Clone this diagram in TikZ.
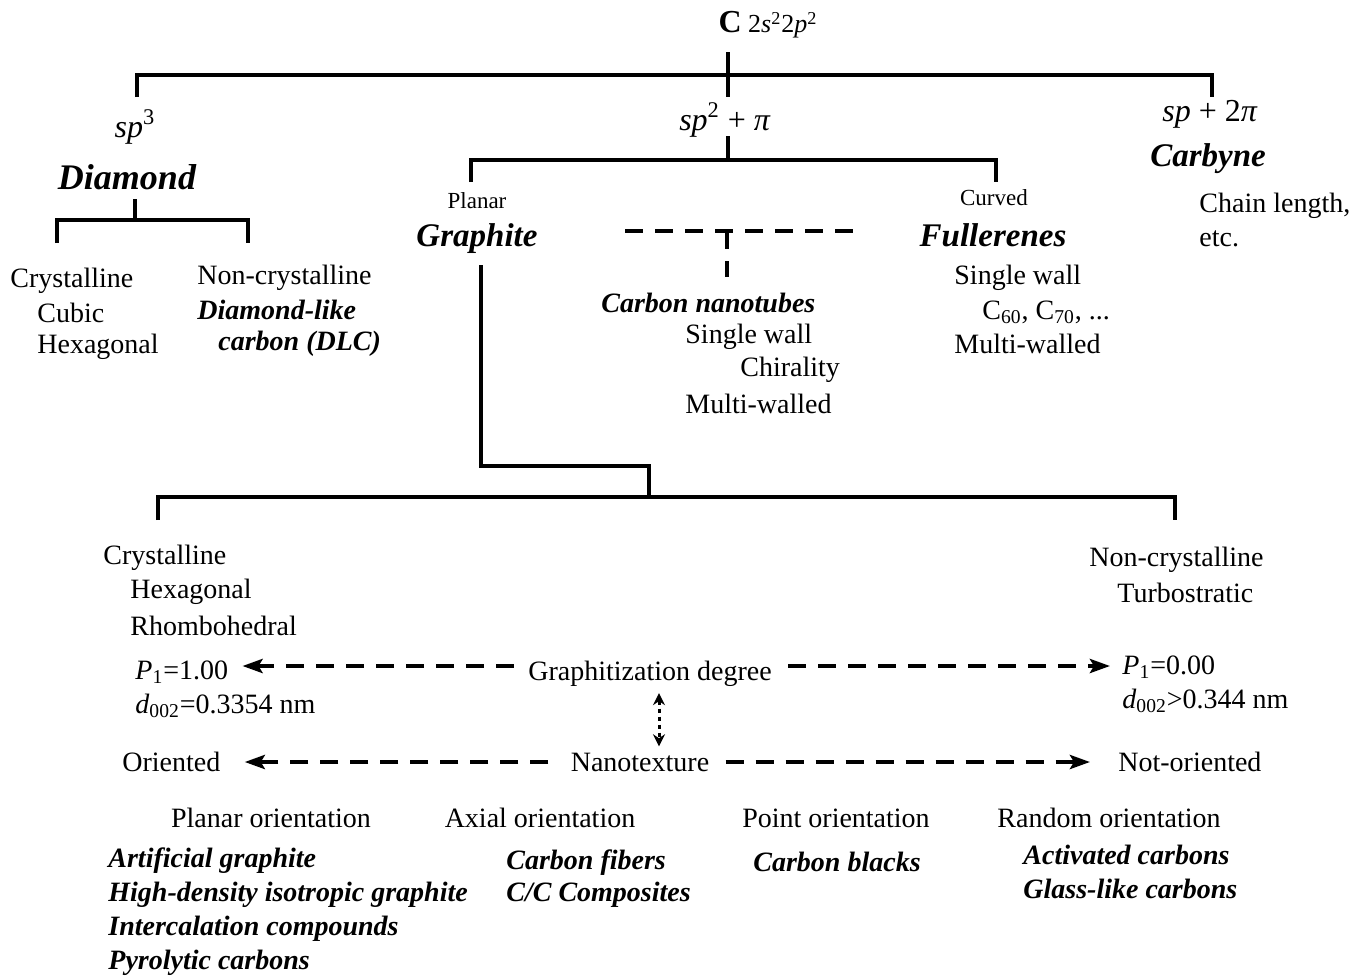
\documentclass[tikz,border=0pt]{standalone}
\usepackage{fontspec}
\setmainfont{Liberation Serif}
\usetikzlibrary{arrows.meta,positioning}
\begin{document}
\begin{tikzpicture}[x=0.5pt,y=-0.5pt,
    every node/.style={inner sep=0pt},
    txt/.style={font=\fontsize{14}{16}\selectfont,anchor=west},
    lbl/.style={font=\fontsize{14}{16}\selectfont},
    small/.style={font=\fontsize{11.5}{13}\selectfont},
    hyb/.style={font=\fontsize{16}{19}\selectfont},
    big/.style={font=\fontsize{16.5}{19}\selectfont\bfseries\itshape},
    kind/.style={font=\fontsize{14}{16}\selectfont\bfseries\itshape,anchor=west},
    bar/.style={line width=2pt},
    dashbar/.style={line width=2pt,dash pattern=on 9pt off 6pt},
    dasharrow/.style={line width=2pt,dash pattern=on 9pt off 6pt,-{Stealth[length=10pt,width=7pt,inset=2pt]}},
    dblarrow/.style={line width=1.5pt,dash pattern=on 2pt off 2pt,{Stealth[length=6pt,width=6pt]}-{Stealth[length=6pt,width=6pt]}}]
    \useasboundingbox (0,0) rectangle (1362,976);

    \node (carbon) at (768,25) {\fontsize{16}{19}\selectfont\bfseries C\mdseries\fontsize{13}{15}\selectfont\ 2\textit{s}\textsuperscript{2}2\textit{p}\textsuperscript{2}};
    \draw[bar] (728,52) -- (728,97);
    \draw[bar] (137,97) -- (137,75) -- (1212,75) -- (1212,97);

    \node[hyb] (sp3) at (135,127) {\textit{sp}\textsuperscript{3}};
    \node[font=\fontsize{18}{20}\selectfont\bfseries\itshape] (diamond) at (127,177) {Diamond};
    \draw[bar] (135,199) -- (135,220);
    \draw[bar] (57,243) -- (57,220) -- (248,220) -- (248,243);
    \node[txt] (dcry) at (10,281) {Crystalline};
    \node[txt] (dcub) at (37,313) {Cubic};
    \node[txt] (dhex) at (37,347) {Hexagonal};
    \node[txt] (dnon) at (197,278) {Non-crystalline};
    \node[kind] (dlca) at (197,310) {Diamond-like};
    \node[kind] (dlcb) at (218,344) {carbon (DLC)};

    \node[hyb] (sp2) at (725,120) {\textit{sp}\textsuperscript{2} + \textit{π}};
    \draw[bar] (728,136) -- (728,160);
    \draw[bar] (471,182) -- (471,160) -- (996,160) -- (996,182);
    \node[small] (planar) at (477,201) {Planar};
    \node[big] (graphite) at (477,239) {Graphite};
    \node[small] (curved) at (994,198) {Curved};
    \node[big] (fuller) at (993,235) {Fullerenes};
    \node[txt] (fsw) at (954,278) {Single wall};
    \node[txt] (fcc) at (982,312) {C\textsubscript{60}, C\textsubscript{70}, ...};
    \node[txt] (fmw) at (954,344) {Multi-walled};

    \draw[dashbar] (625,231) -- (862,231);
    \draw[dashbar] (727,231) -- (727,277);
    \node[kind] (cnt) at (601,303) {Carbon nanotubes};
    \node[txt] (tsw) at (685,337) {Single wall};
    \node[txt] (chir) at (740,370) {Chirality};
    \node[txt] (tmw) at (685,404) {Multi-walled};

    \node[hyb] (sp1) at (1210,114) {\textit{sp} + 2\textit{π}};
    \node[big] (carbyne) at (1208,159) {Carbyne};
    \node[txt] (chain) at (1199,206) {Chain length,};
    \node[txt] (etc) at (1199,239) {etc.};

    \draw[bar] (481,265) -- (481,466) -- (649,466) -- (649,497);
    \draw[bar] (158,520) -- (158,497) -- (1175,497) -- (1175,520);
    \node[txt] (gcry) at (103,558) {Crystalline};
    \node[txt] (ghex) at (130,592) {Hexagonal};
    \node[txt] (grho) at (130,626) {Rhombohedral};
    \node[txt] (gnon) at (1089,560) {Non-crystalline};
    \node[txt] (gtur) at (1117,593) {Turbostratic};

    \node[txt] (p1hi) at (135,672) {\textit{P}\textsubscript{1}=1.00};
    \node[txt] (dhi) at (135,706) {\textit{d}\textsubscript{002}=0.3354 nm};
    \node[lbl] (gdeg) at (650,674) {Graphitization degree};
    \node[txt] (p1lo) at (1122,667) {\textit{P}\textsubscript{1}=0.00};
    \node[txt] (dlo) at (1122,701) {\textit{d}\textsubscript{002}>0.344 nm};
    \draw[dasharrow] ([xshift=-7pt,yshift=4pt]gdeg.west) -- ([xshift=7pt,yshift=4pt]gdeg.west -| p1hi.east);
    \draw[dasharrow] ([xshift=8pt,yshift=4pt]gdeg.east) -- ([xshift=-6pt,yshift=4pt]gdeg.east -| p1lo.west);

    \node[txt] (orient) at (122,762) {Oriented};
    \node[lbl] (nano) at (640,762) {Nanotexture};
    \node[txt] (notor) at (1118,762) {Not-oriented};
    \draw[dasharrow] ([xshift=-11pt]nano.west) -- ([xshift=12pt]nano.west -| orient.east);
    \draw[dasharrow] ([xshift=8pt]nano.east) -- ([xshift=-14pt]nano.east -| notor.west);
    \draw[dblarrow] ([xshift=4.5pt,yshift=-3pt]gdeg.south) -- ([xshift=9.5pt,yshift=3pt]nano.north);

    \node[lbl] (plo) at (271,818) {Planar orientation};
    \node[lbl] (axo) at (540,818) {Axial orientation};
    \node[lbl] (pto) at (836,818) {Point orientation};
    \node[lbl] (rno) at (1109,818) {Random orientation};
    \node[kind] (art) at (108,861) {Artificial graphite};
    \node[kind] (hdi) at (108,895) {High-density isotropic graphite};
    \node[kind] (icc) at (108,929) {Intercalation compounds};
    \node[kind] (pyr) at (108,963) {Pyrolytic carbons};
    \node[kind] (cfb) at (506,863) {Carbon fibers};
    \node[kind] (ccc) at (506,895) {C/C Composites};
    \node[kind] (cbl) at (753,862) {Carbon blacks};
    \node[kind] (act) at (1023,855) {Activated carbons};
    \node[kind] (gls) at (1023,889) {Glass-like carbons};
\end{tikzpicture}
\end{document}
